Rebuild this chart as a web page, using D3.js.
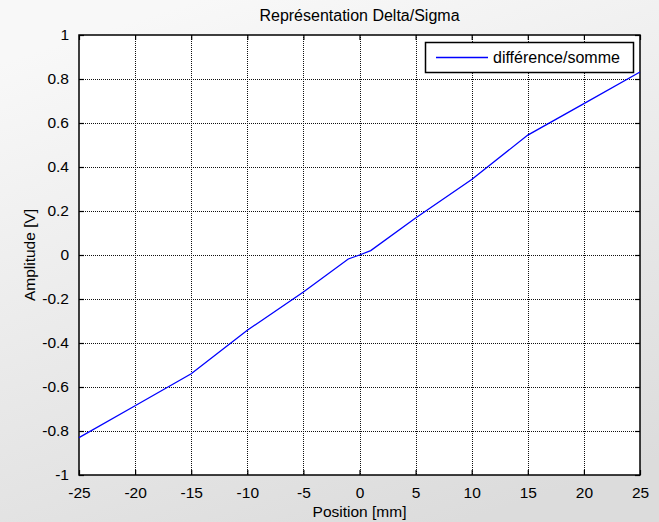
<!DOCTYPE html>
<html>
<head>
<meta charset="utf-8">
<script src="https://cdn.jsdelivr.net/npm/d3@7"></script>
<style>
  html, body { margin: 0; padding: 0; }
  svg { display: block; font-family: "Liberation Sans", Arial, sans-serif; }
</style>
</head>
<body>
<svg id="chart" width="659" height="522"></svg>
<script>
// Position [mm] and measured Delta/Sigma ratio [V]
const positions = [-25, -20, -15, -10, -5, -1, 0, 1, 5, 10, 15, 20, 25];
const amplitudes = [-0.83, -0.685, -0.54, -0.342, -0.168, -0.018, 0, 0.02, 0.168, 0.343, 0.545, 0.688, 0.832];
const xTicks = [-25, -20, -15, -10, -5, 0, 5, 10, 15, 20, 25];
const yTicks = [-1, -0.8, -0.6, -0.4, -0.2, 0, 0.2, 0.4, 0.6, 0.8, 1];
const titleText = "Représentation Delta/Sigma";
const xLabel = "Position [mm]";
const yLabel = "Amplitude [V]";
const seriesName = "différence/somme";

const W = 659, H = 522;
const m = { left: 79, right: 19, top: 35, bottom: 47 };
const svg = d3.select("#chart");

// figure background
const defs = svg.append("defs");
const grad = defs.append("linearGradient").attr("id", "bg")
  .attr("x1", 0.3).attr("y1", 0).attr("x2", 0.7).attr("y2", 1);
grad.append("stop").attr("offset", "0%").attr("stop-color", "#f8f8f8");
grad.append("stop").attr("offset", "100%").attr("stop-color", "#dcdcdc");
svg.append("rect").attr("width", W).attr("height", H).attr("fill", "url(#bg)");

const x = d3.scaleLinear().domain([-25, 25]).range([m.left, W - m.right]);
const y = d3.scaleLinear().domain([-1, 1]).range([H - m.bottom, m.top]);

const x0 = x.range()[0], x1 = x.range()[1], y0 = y.range()[0], y1 = y.range()[1];

// plain hyphen-minus tick labels
const fmt = d => String(+(+d).toFixed(1));

// plot area
svg.append("rect").attr("x", x0).attr("y", y1).attr("width", x1 - x0).attr("height", y0 - y1)
  .attr("fill", "#fff");

// dotted grid
const grid = svg.append("g").attr("stroke", "#111").attr("stroke-width", 1)
  .attr("stroke-dasharray", "1,1").attr("shape-rendering", "crispEdges");
grid.selectAll(".gx").data(xTicks.slice(1, -1)).join("line")
  .attr("x1", d => Math.round(x(d)) + 0.5).attr("x2", d => Math.round(x(d)) + 0.5)
  .attr("y1", y1).attr("y2", y0);
grid.selectAll(".gy").data(yTicks.slice(1, -1)).join("line")
  .attr("y1", d => Math.round(y(d)) + 0.5).attr("y2", d => Math.round(y(d)) + 0.5)
  .attr("x1", x0).attr("x2", x1);

// axes with inward ticks on all four sides
const fs = 15.5;
const axB = svg.append("g").attr("transform", `translate(0,${y0})`)
  .call(d3.axisBottom(x).tickValues(xTicks).tickSize(-5).tickPadding(12).tickFormat(fmt));
const axT = svg.append("g").attr("transform", `translate(0,${y1})`)
  .call(d3.axisTop(x).tickValues(xTicks).tickSize(-5).tickFormat(""));
const axL = svg.append("g").attr("transform", `translate(${x0},0)`)
  .call(d3.axisLeft(y).tickValues(yTicks).tickSize(-5).tickPadding(10).tickFormat(fmt));
const axR = svg.append("g").attr("transform", `translate(${x1},0)`)
  .call(d3.axisRight(y).tickValues(yTicks).tickSize(-5).tickFormat(""));
[axB, axT, axL, axR].forEach(a => {
  a.select(".domain").remove();
  a.selectAll("line").attr("stroke", "#000").attr("stroke-width", 1.2);
  a.selectAll("text").attr("font-size", fs).attr("fill", "#000")
    .attr("font-family", "'Liberation Sans', Arial, sans-serif");
});
axB.selectAll("text").attr("dy", "0.71em");

// box
svg.append("rect").attr("x", x0).attr("y", y1).attr("width", x1 - x0).attr("height", y0 - y1)
  .attr("fill", "none").attr("stroke", "#000").attr("stroke-width", 1.5);

// data line
const line = d3.line().x((d, i) => x(positions[i])).y(d => y(d));
svg.append("path").datum(amplitudes).attr("d", line)
  .attr("fill", "none").attr("stroke", "#0000ff").attr("stroke-width", 1.3);

// title and labels
svg.append("text").attr("x", (x0 + x1) / 2).attr("y", 21).attr("text-anchor", "middle")
  .attr("font-size", 16).text(titleText);
svg.append("text").attr("x", (x0 + x1) / 2).attr("y", 517).attr("text-anchor", "middle")
  .attr("font-size", fs).text(xLabel);
svg.append("text").attr("transform", `translate(35,${(y0 + y1) / 2}) rotate(-90)`)
  .attr("text-anchor", "middle").attr("font-size", fs).text(yLabel);

// legend
const lg = svg.append("g");
lg.append("rect").attr("x", 425.5).attr("y", 42.5).attr("width", 208).attr("height", 30)
  .attr("fill", "#fff").attr("stroke", "#000").attr("stroke-width", 1.5);
lg.append("line").attr("x1", 436).attr("x2", 488).attr("y1", 57.5).attr("y2", 57.5)
  .attr("stroke", "#0000ff").attr("stroke-width", 1.3);
lg.append("text").attr("x", 493).attr("y", 63).attr("font-size", 16).text(seriesName);
</script>
</body>
</html>
